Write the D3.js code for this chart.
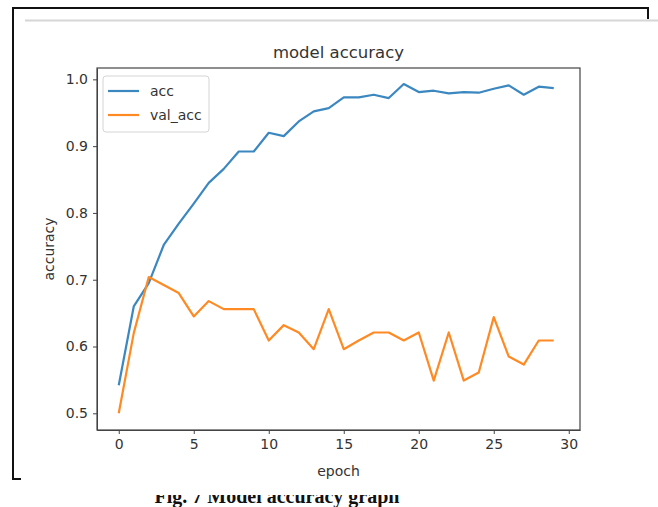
<!DOCTYPE html>
<html>
<head>
<meta charset="utf-8">
<script src="https://cdn.jsdelivr.net/npm/d3@7/dist/d3.min.js"></script>
<style>
  body { margin: 0; background: #fff; }
  svg { display: block; }
  .axis text { font-family: "DejaVu Sans", sans-serif; font-size: 14px; fill: #333; }
  .axis path, .axis line { stroke: #444; }
</style>
</head>
<body>
<div class="chart"></div>
<script>
// values
var epochs = d3.range(0, 30);
var acc = [0.542, 0.660, 0.695, 0.752, 0.784, 0.814, 0.845, 0.866, 0.892, 0.892,
           0.920, 0.915, 0.937, 0.952, 0.957, 0.973, 0.973, 0.977, 0.972, 0.993,
           0.981, 0.983, 0.979, 0.981, 0.980, 0.986, 0.991, 0.977, 0.989, 0.987];
var valAcc = [0.500, 0.620, 0.704, 0.692, 0.680, 0.645, 0.668, 0.656, 0.656, 0.656,
              0.609, 0.632, 0.621, 0.596, 0.656, 0.596, 0.609, 0.621, 0.621, 0.609,
              0.621, 0.549, 0.621, 0.549, 0.561, 0.644, 0.585, 0.573, 0.609, 0.609];
var xTicks = [0, 5, 10, 15, 20, 25, 30];
var yTicks = [0.5, 0.6, 0.7, 0.8, 0.9, 1.0];
var seriesNames = ["acc", "val_acc"];
var seriesColors = ["#3b87c0", "#ff8a24"];

var width = 658, height = 507;
var box = {left: 97, right: 580, top: 68, bottom: 430};

var svg = d3.select("div.chart").append("svg")
    .attr("width", width)
    .attr("height", height);

// page frame around the figure
svg.append("path")
    .attr("d", "M648,19V8H13V479H21")
    .attr("fill", "none")
    .attr("stroke", "#111")
    .attr("stroke-width", 2);
svg.append("line")
    .attr("x1", 25).attr("x2", 658).attr("y1", 20.5).attr("y2", 20.5)
    .attr("stroke", "#d6d6d6")
    .attr("stroke-width", 2);

var x = d3.scaleLinear().domain([-1.45, 30.75]).range([box.left, box.right]);
var y = d3.scaleLinear().domain([0.475, 1.017]).range([box.bottom, box.top]);

svg.append("g")
    .attr("class", "axis x")
    .attr("transform", "translate(0," + box.bottom + ")")
    .call(d3.axisBottom(x).tickValues(xTicks).tickFormat(d3.format("d")).tickSize(4).tickPadding(5).tickSizeOuter(0));

svg.append("g")
    .attr("class", "axis y")
    .attr("transform", "translate(" + box.left + ",0)")
    .call(d3.axisLeft(y).tickValues(yTicks).tickFormat(d3.format(".1f")).tickSize(4).tickPadding(5).tickSizeOuter(0));

// spines
svg.append("rect")
    .attr("x", box.left).attr("y", box.top)
    .attr("width", box.right - box.left).attr("height", box.bottom - box.top)
    .attr("fill", "none")
    .attr("stroke", "#444")
    .attr("stroke-width", 1.2);

var line = d3.line().x(function(d) { return x(d[0]); }).y(function(d) { return y(d[1]); });

[acc, valAcc].forEach(function(vals, i) {
    svg.append("path")
        .attr("d", line(epochs.map(function(e, k) { return [e, vals[k]]; })))
        .attr("fill", "none")
        .attr("stroke", seriesColors[i])
        .attr("stroke-width", 2.2)
        .attr("stroke-linejoin", "round");
});

// titles
var font = "DejaVu Sans, sans-serif";
svg.append("text")
    .attr("x", (box.left + box.right) / 2).attr("y", 58)
    .attr("text-anchor", "middle")
    .attr("font-family", font).attr("font-size", 16.5).attr("fill", "#333")
    .text("model accuracy");
svg.append("text")
    .attr("x", (box.left + box.right) / 2).attr("y", 476)
    .attr("text-anchor", "middle")
    .attr("font-family", font).attr("font-size", 14).attr("fill", "#333")
    .text("epoch");
svg.append("text")
    .attr("transform", "translate(54," + (box.top + box.bottom) / 2 + ") rotate(-90)")
    .attr("text-anchor", "middle")
    .attr("font-family", font).attr("font-size", 14).attr("fill", "#333")
    .text("accuracy");

// legend
var legend = svg.append("g").attr("transform", "translate(103,76)");
legend.append("rect")
    .attr("width", 106).attr("height", 56).attr("rx", 3)
    .attr("fill", "#fff").attr("stroke", "#d4d4d4");
seriesNames.forEach(function(name, i) {
    var ly = 15 + i * 24;
    legend.append("line")
        .attr("x1", 5).attr("x2", 36).attr("y1", ly).attr("y2", ly)
        .attr("stroke", seriesColors[i]).attr("stroke-width", 2.2);
    legend.append("text")
        .attr("x", 47).attr("y", ly + 5)
        .attr("font-family", font).attr("font-size", 14).attr("fill", "#333")
        .text(name);
});

// caption, its top cut off in the source
svg.append("clipPath").attr("id", "capclip")
    .append("rect").attr("x", 0).attr("y", 495).attr("width", width).attr("height", 20);
svg.append("text")
    .attr("clip-path", "url(#capclip)")
    .attr("x", 277).attr("y", 503)
    .attr("text-anchor", "middle")
    .attr("font-family", "Liberation Serif, serif").attr("font-weight", "bold")
    .attr("font-size", 20).attr("fill", "#111")
    .text("Fig. 7 Model accuracy graph");
</script>
</body>
</html>
